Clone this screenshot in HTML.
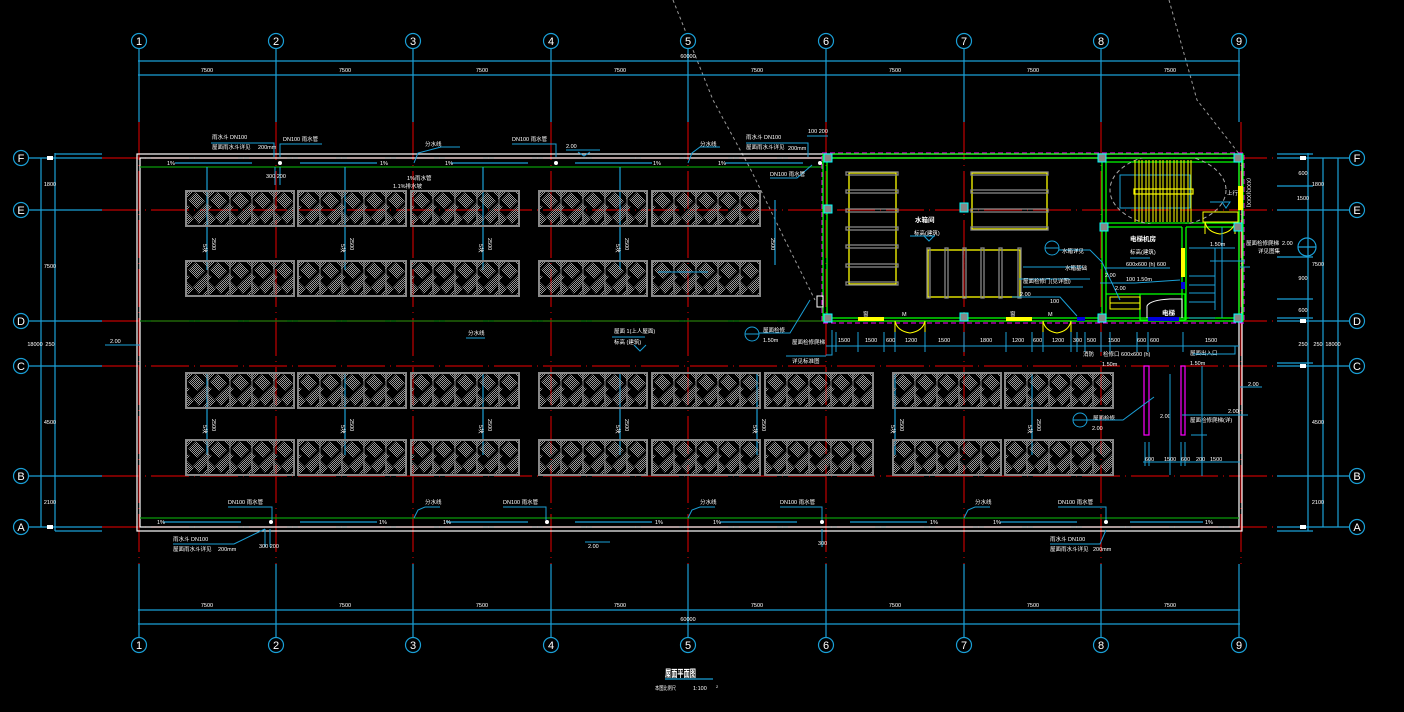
<!DOCTYPE html>
<html><head><meta charset="utf-8">
<style>
html,body{margin:0;padding:0;background:#000;width:1404px;height:712px;overflow:hidden}
svg{display:block}
.t{fill:#fff;font-family:"Liberation Sans","Noto Sans CJK SC",sans-serif;font-size:5.5px}
.tb{fill:#fff;font-family:"Liberation Sans","Noto Sans CJK SC",sans-serif;font-size:6.5px;font-weight:bold}
.bn{fill:#fff;font-family:"Liberation Sans",sans-serif;font-size:11px}
</style></head><body>
<svg width="1404" height="712" viewBox="0 0 1404 712" xmlns="http://www.w3.org/2000/svg">
<defs>
<pattern id="chk" width="2" height="2" patternUnits="userSpaceOnUse">
<rect x="0" y="0" width="1" height="1" fill="#9a9a9a"/><rect x="1" y="1" width="1" height="1" fill="#9a9a9a"/>
</pattern>
<pattern id="blob" width="22" height="37" patternUnits="userSpaceOnUse">
<g fill="url(#chk)">
<polygon points="0,0 10,0 0,10"/>
<polygon points="11,2 20,11 12,19 3,10"/>
<polygon points="22,13 22,25 17,30 11,24"/>
<polygon points="0,20 9,29 3,35 0,32"/>
<polygon points="8,27 15,20 21,26 14,34"/>
<polygon points="15,0 22,0 22,7"/>
<polygon points="20,32 22,30 22,37 17,37"/>
<polygon points="0,13 5,17 0,22"/>
</g>
</pattern>
<symbol id="pv" viewBox="0 0 110 37" width="110" height="37">
<rect x="1" y="1" width="108" height="35" fill="url(#blob)"/>
<rect x="1" y="1" width="108" height="35" fill="none" stroke="#888" stroke-width="2"/>
<g stroke="#888" stroke-width="1"><line x1="23" y1="1" x2="23" y2="36"/><line x1="45" y1="1" x2="45" y2="36"/><line x1="67" y1="1" x2="67" y2="36"/><line x1="89" y1="1" x2="89" y2="36"/></g>
</symbol>
<clipPath id="stairclip"><rect x="1104" y="158" width="160" height="66"/></clipPath>
</defs>

<!-- diagonal dashed arcs -->
<g fill="none" stroke="#999" stroke-width="1" stroke-dasharray="3,3">
<path d="M673,0 L713,100 L751,170 L785,240 L815,300"/>
<path d="M1169,0 L1197,100 L1240,155"/>
</g>

<!-- red grid lines -->
<g stroke="#c00000" stroke-width="1.2" fill="none" stroke-dasharray="38,5,1,5">
<line x1="139" y1="122" x2="139" y2="564"/><line x1="276" y1="122" x2="276" y2="564"/>
<line x1="413" y1="122" x2="413" y2="564"/><line x1="551" y1="122" x2="551" y2="564"/>
<line x1="688" y1="122" x2="688" y2="564"/><line x1="826" y1="122" x2="826" y2="564"/>
<line x1="964" y1="122" x2="964" y2="564"/><line x1="1101" y1="122" x2="1101" y2="564"/>
<line x1="1241" y1="122" x2="1241" y2="564"/>
<line x1="102" y1="158" x2="1277" y2="158"/><line x1="102" y1="210" x2="1277" y2="210"/>
<line x1="102" y1="321" x2="1277" y2="321"/><line x1="102" y1="366" x2="1277" y2="366"/>
<line x1="102" y1="476" x2="1277" y2="476"/><line x1="102" y1="527" x2="1277" y2="527"/>
</g>

<!-- blue grid extensions + bubbles -->
<g stroke="#1a9fd6" stroke-width="1.2" fill="none">
<line x1="139" y1="48" x2="139" y2="122"/><line x1="276" y1="48" x2="276" y2="122"/>
<line x1="413" y1="48" x2="413" y2="122"/><line x1="551" y1="48" x2="551" y2="122"/>
<line x1="688" y1="48" x2="688" y2="122"/><line x1="826" y1="48" x2="826" y2="122"/>
<line x1="964" y1="48" x2="964" y2="122"/><line x1="1101" y1="48" x2="1101" y2="122"/>
<line x1="1239" y1="48" x2="1239" y2="122"/>
<line x1="139" y1="564" x2="139" y2="638"/><line x1="276" y1="564" x2="276" y2="638"/>
<line x1="413" y1="564" x2="413" y2="638"/><line x1="551" y1="564" x2="551" y2="638"/>
<line x1="688" y1="564" x2="688" y2="638"/><line x1="826" y1="564" x2="826" y2="638"/>
<line x1="964" y1="564" x2="964" y2="638"/><line x1="1101" y1="564" x2="1101" y2="638"/>
<line x1="1239" y1="564" x2="1239" y2="638"/>
<line x1="138" y1="61" x2="1240" y2="61"/><line x1="138" y1="75" x2="1240" y2="75"/>
<line x1="138" y1="610" x2="1240" y2="610"/><line x1="138" y1="624" x2="1240" y2="624"/>
<line x1="28" y1="158" x2="102" y2="158"/><line x1="28" y1="210" x2="102" y2="210"/>
<line x1="28" y1="321" x2="102" y2="321"/><line x1="28" y1="366" x2="102" y2="366"/>
<line x1="28" y1="476" x2="102" y2="476"/><line x1="28" y1="527" x2="102" y2="527"/>
<line x1="55" y1="154" x2="102" y2="154"/><line x1="55" y1="531" x2="102" y2="531"/>
<line x1="41" y1="158" x2="41" y2="527"/><line x1="55" y1="153" x2="55" y2="531"/>
<line x1="1277" y1="158" x2="1350" y2="158"/><line x1="1277" y1="210" x2="1350" y2="210"/>
<line x1="1277" y1="321" x2="1350" y2="321"/><line x1="1277" y1="366" x2="1350" y2="366"/>
<line x1="1277" y1="476" x2="1350" y2="476"/><line x1="1277" y1="527" x2="1350" y2="527"/>
<line x1="1277" y1="154" x2="1313" y2="154"/><line x1="1277" y1="531" x2="1313" y2="531"/>
<line x1="1277" y1="186" x2="1313" y2="186"/><line x1="1277" y1="257" x2="1313" y2="257"/>
<line x1="1277" y1="299" x2="1313" y2="299"/><line x1="1277" y1="318" x2="1313" y2="318"/>
<line x1="1277" y1="363" x2="1313" y2="363"/>
<line x1="1308" y1="153" x2="1308" y2="531"/><line x1="1323" y1="158" x2="1323" y2="527"/>
<line x1="1338" y1="158" x2="1338" y2="527"/>
<circle cx="1307" cy="247" r="9"/><line x1="1298" y1="247" x2="1316" y2="247"/>
</g>
<g stroke="#1a9fd6" stroke-width="1.2" fill="#000">
<circle cx="139" cy="41" r="7.5"/><circle cx="276" cy="41" r="7.5"/><circle cx="413" cy="41" r="7.5"/>
<circle cx="551" cy="41" r="7.5"/><circle cx="688" cy="41" r="7.5"/><circle cx="826" cy="41" r="7.5"/>
<circle cx="964" cy="41" r="7.5"/><circle cx="1101" cy="41" r="7.5"/><circle cx="1239" cy="41" r="7.5"/>
<circle cx="139" cy="645" r="7.5"/><circle cx="276" cy="645" r="7.5"/><circle cx="413" cy="645" r="7.5"/>
<circle cx="551" cy="645" r="7.5"/><circle cx="688" cy="645" r="7.5"/><circle cx="826" cy="645" r="7.5"/>
<circle cx="964" cy="645" r="7.5"/><circle cx="1101" cy="645" r="7.5"/><circle cx="1239" cy="645" r="7.5"/>
<circle cx="21" cy="158" r="7.5"/><circle cx="21" cy="210" r="7.5"/><circle cx="21" cy="321" r="7.5"/>
<circle cx="21" cy="366" r="7.5"/><circle cx="21" cy="476" r="7.5"/><circle cx="21" cy="527" r="7.5"/>
<circle cx="1357" cy="158" r="7.5"/><circle cx="1357" cy="210" r="7.5"/><circle cx="1357" cy="321" r="7.5"/>
<circle cx="1357" cy="366" r="7.5"/><circle cx="1357" cy="476" r="7.5"/><circle cx="1357" cy="527" r="7.5"/>
</g>
<g class="bn" text-anchor="middle">
<text x="139" y="45">1</text><text x="276" y="45">2</text><text x="413" y="45">3</text><text x="551" y="45">4</text>
<text x="688" y="45">5</text><text x="826" y="45">6</text><text x="964" y="45">7</text><text x="1101" y="45">8</text><text x="1239" y="45">9</text>
<text x="139" y="649">1</text><text x="276" y="649">2</text><text x="413" y="649">3</text><text x="551" y="649">4</text>
<text x="688" y="649">5</text><text x="826" y="649">6</text><text x="964" y="649">7</text><text x="1101" y="649">8</text><text x="1239" y="649">9</text>
<text x="21" y="162">F</text><text x="21" y="214">E</text><text x="21" y="325">D</text><text x="21" y="370">C</text><text x="21" y="480">B</text><text x="21" y="531">A</text>
<text x="1357" y="162">F</text><text x="1357" y="214">E</text><text x="1357" y="325">D</text><text x="1357" y="370">C</text><text x="1357" y="480">B</text><text x="1357" y="531">A</text>
</g>

<g class="t" text-anchor="middle">
<text x="207" y="72">7500</text><text x="345" y="72">7500</text><text x="482" y="72">7500</text><text x="620" y="72">7500</text>
<text x="757" y="72">7500</text><text x="895" y="72">7500</text><text x="1033" y="72">7500</text><text x="1170" y="72">7500</text>
<text x="688" y="58">60000</text>
<text x="207" y="607">7500</text><text x="345" y="607">7500</text><text x="482" y="607">7500</text><text x="620" y="607">7500</text>
<text x="757" y="607">7500</text><text x="895" y="607">7500</text><text x="1033" y="607">7500</text><text x="1170" y="607">7500</text>
<text x="688" y="621">60000</text>
<text x="50" y="186">1800</text><text x="50" y="268">7500</text><text x="50" y="346">250</text>
<text x="50" y="424">4500</text><text x="50" y="504">2100</text><text x="35" y="346">18000</text>
<text x="1303" y="175">600</text><text x="1303" y="200">1500</text><text x="1303" y="280">900</text>
<text x="1303" y="312">600</text><text x="1303" y="346">250</text><text x="1318" y="346">250</text>
<text x="1318" y="186">1800</text><text x="1318" y="266">7500</text><text x="1318" y="424">4500</text><text x="1318" y="504">2100</text>
<text x="1333" y="346">18000</text>
</g>
<g fill="#fff"><rect x="47" y="156" width="6" height="4"/><rect x="47" y="525" width="6" height="4"/>
<rect x="1300" y="156" width="6" height="4"/><rect x="1300" y="319" width="6" height="4"/><rect x="1300" y="364" width="6" height="4"/><rect x="1300" y="525" width="6" height="4"/></g>

<rect x="137" y="154" width="1105" height="377" fill="none" stroke="#fff" stroke-width="1.2"/>
<rect x="140" y="158" width="1099" height="369" fill="none" stroke="#fff" stroke-width="1.2"/>
<g stroke="#0a9a0a" stroke-width="1.2"><line x1="140" y1="167" x2="823" y2="167"/><line x1="140" y1="518" x2="1239" y2="518"/>
<line x1="826" y1="321" x2="140" y2="321" stroke="#0a7a0a"/></g>

<g stroke="#1a9fd6" stroke-width="1.2">
<line x1="175" y1="163" x2="252" y2="163"/><line x1="300" y1="163" x2="377" y2="163"/>
<line x1="451" y1="163" x2="528" y2="163"/><line x1="575" y1="163" x2="652" y2="163"/>
<line x1="725" y1="163" x2="803" y2="163"/>
<line x1="163" y1="522" x2="241" y2="522"/><line x1="300" y1="522" x2="377" y2="522"/>
<line x1="446" y1="522" x2="528" y2="522"/><line x1="575" y1="522" x2="652" y2="522"/>
<line x1="720" y1="522" x2="797" y2="522"/><line x1="850" y1="522" x2="927" y2="522"/>
<line x1="1000" y1="522" x2="1077" y2="522"/><line x1="1130" y1="522" x2="1203" y2="522"/>
</g>
<g class="t"><text x="167" y="165">1%</text><text x="380" y="165">1%</text><text x="445" y="165">1%</text><text x="653" y="165">1%</text><text x="718" y="165">1%</text>
<text x="157" y="524">1%</text><text x="379" y="524">1%</text><text x="443" y="524">1%</text><text x="655" y="524">1%</text><text x="713" y="524">1%</text>
<text x="930" y="524">1%</text><text x="993" y="524">1%</text><text x="1205" y="524">1%</text></g>
<g fill="#fff"><circle cx="280" cy="163" r="2"/><circle cx="556" cy="163" r="2"/><circle cx="820" cy="163" r="2"/>
<circle cx="271" cy="522" r="2"/><circle cx="547" cy="522" r="2"/><circle cx="822" cy="522" r="2"/><circle cx="1106" cy="522" r="2"/></g>

<g stroke="#1a9fd6" stroke-width="1" fill="none">
<polyline points="211,143 274,143 274,157"/><polyline points="280,157 280,144 322,144"/>
<polyline points="414,163 418,153 441,147 460,147"/><polyline points="512,144 556,144 556,157"/>
<polyline points="566,150 600,150"/><polyline points="688,163 692,153 700,147 720,147"/>
<polyline points="746,143 808,143 808,157"/><polyline points="807,136 828,136"/>
<polyline points="770,178 797,178 812,165"/>
<line x1="275" y1="167" x2="275" y2="185"/><line x1="280" y1="167" x2="280" y2="185"/>
<polyline points="228,507 272,507 272,520"/><polyline points="414,518 418,510 425,507 440,507"/>
<polyline points="503,507 546,507 546,520"/><polyline points="688,518 692,510 700,507 715,507"/>
<polyline points="780,507 822,507 822,520"/><polyline points="964,518 968,510 975,507 990,507"/>
<polyline points="1058,507 1106,507 1106,520"/>
<polyline points="173,544 234,544 265,529"/><line x1="265" y1="529" x2="265" y2="547"/><line x1="270" y1="529" x2="270" y2="547"/>
<polyline points="1050,544 1100,544 1106,530"/><line x1="822" y1="529" x2="822" y2="547"/>
<polyline points="585,542 610,542"/><polyline points="105,345 140,345"/>
<polyline points="466,338 485,338"/><polyline points="612,337 645,337"/>
<polyline points="1240,387 1262,387"/>
</g>
<g class="t">
<text x="212" y="139">雨水斗  DN100</text><text x="212" y="149">屋面雨水斗详见</text><text x="258" y="149">200mm</text>
<text x="283" y="141">DN100  雨水管</text><text x="425" y="146">分水线</text><text x="512" y="141">DN100  雨水管</text>
<text x="566" y="148">2.00</text><text x="700" y="146">分水线</text>
<text x="746" y="139">雨水斗  DN100</text><text x="746" y="149">屋面雨水斗详见</text><text x="788" y="150">200mm</text>
<text x="808" y="133">100 200</text><text x="770" y="176">DN100  雨水管</text><text x="266" y="178">300 200</text>
<text x="407" y="180">1%雨水管</text><text x="393" y="188">1.1%排水坡</text>
<text x="228" y="504">DN100  雨水管</text><text x="425" y="504">分水线</text><text x="503" y="504">DN100  雨水管</text>
<text x="700" y="504">分水线</text><text x="780" y="504">DN100  雨水管</text><text x="975" y="504">分水线</text><text x="1058" y="504">DN100  雨水管</text>
<text x="173" y="541">雨水斗  DN100</text><text x="173" y="551">屋面雨水斗详见</text><text x="218" y="551">200mm</text>
<text x="259" y="548">300 200</text><text x="818" y="545">300</text><text x="588" y="548">2.00</text>
<text x="1050" y="541">雨水斗  DN100</text><text x="1050" y="551">屋面雨水斗详见</text><text x="1093" y="551">200mm</text>
<text x="110" y="343">2.00</text><text x="468" y="335">分水线</text>
<text x="614" y="333">屋面 1(上人屋面)</text><text x="614" y="344">标高  (建筑)</text>
<text x="1246" y="245">屋面检修爬梯</text><text x="1258" y="253">详见图集</text><text x="1282" y="245">2.00</text>
<text x="1248" y="386">2.00</text>
</g>
<g stroke="#1a9fd6" stroke-width="1" fill="none"><polyline points="634,345 640,351 646,345"/><polyline points="578,152 584,156 590,152"/></g>

<g stroke="#1a9fd6" stroke-width="1.2">
<line x1="207" y1="167" x2="207" y2="270"/><line x1="345" y1="167" x2="345" y2="270"/><line x1="483" y1="167" x2="483" y2="270"/>
<line x1="620" y1="167" x2="620" y2="270"/><line x1="775" y1="200" x2="775" y2="265"/>
<line x1="207" y1="374" x2="207" y2="455"/><line x1="345" y1="374" x2="345" y2="455"/><line x1="483" y1="374" x2="483" y2="455"/>
<line x1="620" y1="374" x2="620" y2="455"/><line x1="757" y1="374" x2="757" y2="455"/><line x1="895" y1="374" x2="895" y2="455"/>
<line x1="1032" y1="374" x2="1032" y2="455"/>
</g>
<g class="t">
<text transform="translate(203,244) rotate(90)">5块</text><text transform="translate(212,238) rotate(90)">2500</text>
<text transform="translate(341,244) rotate(90)">5块</text><text transform="translate(350,238) rotate(90)">2500</text>
<text transform="translate(479,244) rotate(90)">5块</text><text transform="translate(488,238) rotate(90)">2500</text>
<text transform="translate(616,244) rotate(90)">5块</text><text transform="translate(625,238) rotate(90)">2500</text>
<text transform="translate(771,238) rotate(90)">2500</text>
<text transform="translate(203,425) rotate(90)">5块</text><text transform="translate(212,419) rotate(90)">2500</text>
<text transform="translate(341,425) rotate(90)">5块</text><text transform="translate(350,419) rotate(90)">2500</text>
<text transform="translate(479,425) rotate(90)">5块</text><text transform="translate(488,419) rotate(90)">2500</text>
<text transform="translate(616,425) rotate(90)">5块</text><text transform="translate(625,419) rotate(90)">2500</text>
<text transform="translate(753,425) rotate(90)">5块</text><text transform="translate(762,419) rotate(90)">2500</text>
<text transform="translate(891,425) rotate(90)">5块</text><text transform="translate(900,419) rotate(90)">2500</text>
<text transform="translate(1028,425) rotate(90)">5块</text><text transform="translate(1037,419) rotate(90)">2500</text>
</g>

<use href="#pv" x="185" y="190"/><use href="#pv" x="297" y="190"/><use href="#pv" x="410" y="190"/><use href="#pv" x="538" y="190"/><use href="#pv" x="651" y="190"/>
<use href="#pv" x="185" y="260"/><use href="#pv" x="297" y="260"/><use href="#pv" x="410" y="260"/><use href="#pv" x="538" y="260"/><use href="#pv" x="651" y="260"/>
<use href="#pv" x="185" y="372"/><use href="#pv" x="297" y="372"/><use href="#pv" x="410" y="372"/><use href="#pv" x="538" y="372"/>
<use href="#pv" x="651" y="372"/><use href="#pv" x="764" y="372"/><use href="#pv" x="892" y="372"/><use href="#pv" x="1004" y="372"/>
<use href="#pv" x="185" y="439"/><use href="#pv" x="297" y="439"/><use href="#pv" x="410" y="439"/><use href="#pv" x="538" y="439"/>
<use href="#pv" x="651" y="439"/><use href="#pv" x="764" y="439"/><use href="#pv" x="892" y="439"/><use href="#pv" x="1004" y="439"/>

<rect x="822" y="153" width="422" height="170" fill="none" stroke="#f0f" stroke-width="1" stroke-dasharray="5,3"/>
<g fill="none" stroke="#0f0" stroke-width="1.3">
<rect x="823" y="154" width="420" height="167"/>
<rect x="827" y="158" width="412" height="160"/>
<line x1="1102" y1="158" x2="1102" y2="318"/><line x1="1106" y1="162" x2="1106" y2="318"/>
<line x1="1106" y1="223" x2="1239" y2="223"/><line x1="1106" y1="227" x2="1182" y2="227"/>
<line x1="1182" y1="227" x2="1182" y2="318"/><line x1="1186" y1="227" x2="1239" y2="227"/><line x1="1186" y1="227" x2="1186" y2="320"/>
<rect x="1140" y="294" width="45" height="26"/>
<polyline points="1106,294 1140,294"/>
<line x1="1106" y1="162" x2="1239" y2="162"/>
</g>
<g fill="#ff0"><rect x="858" y="317" width="26" height="4"/><rect x="1006" y="317" width="26" height="4"/>
<rect x="1238" y="186" width="5" height="24"/><rect x="1181" y="248" width="4" height="29"/></g>
<g fill="none" stroke="#ff0" stroke-width="1">
<path d="M895,321 L895,333 M925,321 L925,333 M895,321 Q897,331 910,333 Q923,331 925,321"/>
<path d="M1043,321 L1043,333 M1071,321 L1071,333 M1043,321 Q1045,331 1057,333 Q1069,331 1071,321"/>
<path d="M1205,222 L1205,234 M1235,222 L1235,234 M1205,222 Q1207,232 1220,234 Q1233,232 1235,222"/>
<rect x="1110" y="297" width="30" height="12"/><line x1="1110" y1="303" x2="1140" y2="303"/>
</g>
<g fill="#0000e0"><rect x="1148" y="317" width="31" height="4"/><rect x="1077" y="317" width="8" height="4"/><rect x="1181" y="282" width="4" height="7"/></g>
<path d="M1147,318 L1147,306 Q1150,300 1170,299 L1182,299 L1182,318" fill="none" stroke="#fff" stroke-width="1"/>

<g fill="none" stroke="#ff0" stroke-width="1.3">
<rect x="849" y="173" width="47" height="111"/>
<rect x="972" y="173" width="75" height="56"/>
<rect x="928" y="250" width="92" height="47"/>
</g>
<g fill="none" stroke="#888" stroke-width="1.3">
<rect x="846" y="172" width="52" height="3"/><rect x="846" y="190" width="52" height="3"/><rect x="846" y="209" width="52" height="3"/>
<rect x="846" y="227" width="52" height="3"/><rect x="846" y="245" width="52" height="3"/><rect x="846" y="264" width="52" height="3"/><rect x="846" y="282" width="52" height="3"/>
<rect x="971" y="172" width="77" height="3"/><rect x="971" y="190" width="77" height="3"/><rect x="971" y="209" width="77" height="3"/><rect x="971" y="227" width="77" height="3"/>
<rect x="927" y="248" width="3" height="50"/><rect x="945" y="248" width="3" height="50"/><rect x="963" y="248" width="3" height="50"/>
<rect x="981" y="248" width="3" height="50"/><rect x="999" y="248" width="3" height="50"/><rect x="1018" y="248" width="3" height="50"/>
</g>
<line x1="964" y1="255" x2="964" y2="295" stroke="#c00000" stroke-width="1"/>

<g clip-path="url(#stairclip)"><ellipse cx="1168" cy="190" rx="58" ry="36" fill="none" stroke="#aaa" stroke-width="1" stroke-dasharray="4,3"/></g>
<rect x="1120" y="175" width="70" height="33" fill="none" stroke="#1a9fd6" stroke-width="1"/>
<g stroke="#ff0" stroke-width="1">
<line x1="1135" y1="160" x2="1135" y2="222"/><line x1="1139" y1="160" x2="1139" y2="222"/><line x1="1142" y1="160" x2="1142" y2="222"/>
<line x1="1146" y1="160" x2="1146" y2="222"/><line x1="1149" y1="160" x2="1149" y2="222"/><line x1="1153" y1="160" x2="1153" y2="222"/>
<line x1="1156" y1="160" x2="1156" y2="222"/><line x1="1160" y1="160" x2="1160" y2="222"/><line x1="1163" y1="160" x2="1163" y2="222"/>
<line x1="1167" y1="160" x2="1167" y2="222"/><line x1="1170" y1="160" x2="1170" y2="222"/><line x1="1174" y1="160" x2="1174" y2="222"/>
<line x1="1177" y1="160" x2="1177" y2="222"/><line x1="1181" y1="160" x2="1181" y2="222"/><line x1="1184" y1="160" x2="1184" y2="222"/>
<line x1="1188" y1="160" x2="1188" y2="222"/><line x1="1191" y1="160" x2="1191" y2="222"/>
</g>
<rect x="1134" y="189" width="59" height="5" fill="none" stroke="#ff0" stroke-width="1.2"/>
<rect x="1203" y="212" width="35" height="10" fill="none" stroke="#ff0" stroke-width="1"/>

<g fill="#888" stroke="#0ff" stroke-width="1">
<rect x="824" y="154" width="8" height="8"/><rect x="824" y="205" width="8" height="8"/><rect x="960" y="203" width="8" height="9"/>
<rect x="824" y="314" width="8" height="8"/><rect x="960" y="313" width="8" height="8"/>
<rect x="1098" y="154" width="8" height="8"/><rect x="1234" y="154" width="8" height="8"/>
<rect x="1100" y="223" width="8" height="8"/><rect x="1234" y="223" width="8" height="8"/>
<rect x="1098" y="314" width="8" height="8"/><rect x="1234" y="314" width="8" height="8"/>
</g>
<rect x="817" y="296" width="6" height="11" fill="none" stroke="#fff" stroke-width="1"/>

<g stroke="#1a9fd6" stroke-width="1" fill="none">
<line x1="826" y1="346" x2="1239" y2="346"/>
<g>
<line x1="836" y1="332" x2="836" y2="352"/><line x1="858" y1="332" x2="858" y2="352"/><line x1="884" y1="332" x2="884" y2="352"/>
<line x1="895" y1="332" x2="895" y2="352"/><line x1="925" y1="332" x2="925" y2="352"/><line x1="964" y1="332" x2="964" y2="352"/>
<line x1="1006" y1="332" x2="1006" y2="352"/><line x1="1032" y1="332" x2="1032" y2="352"/><line x1="1043" y1="332" x2="1043" y2="352"/>
<line x1="1071" y1="332" x2="1071" y2="352"/><line x1="1077" y1="332" x2="1077" y2="352"/><line x1="1085" y1="332" x2="1085" y2="352"/>
<line x1="1101" y1="332" x2="1101" y2="352"/><line x1="1110" y1="332" x2="1110" y2="352"/><line x1="1137" y1="332" x2="1137" y2="352"/>
<line x1="1148" y1="332" x2="1148" y2="352"/><line x1="1183" y1="332" x2="1183" y2="352"/>
</g>
<polyline points="826,355 832,355 832,330"/><polyline points="786,356 826,356"/>
<circle cx="752" cy="334" r="7"/><line x1="745" y1="334" x2="759" y2="334"/>
<polyline points="759,333 790,333 810,300"/>
<circle cx="1052" cy="248" r="7"/><line x1="1045" y1="248" x2="1059" y2="248"/>
<polyline points="1059,250 1090,250 1102,262 1120,300"/>
<line x1="1023" y1="267" x2="1083" y2="267"/><line x1="1023" y1="287" x2="1083" y2="287"/>
<polyline points="1012,297 1060,297 1077,316"/>
<polyline points="1105,268 1170,268"/><polyline points="1100,283 1135,283 1180,280"/>
<polyline points="1130,258 1150,258"/>
<line x1="1222" y1="227" x2="1222" y2="318"/><line x1="1215" y1="248" x2="1215" y2="310"/>
<line x1="1189" y1="248" x2="1235" y2="248"/><line x1="1189" y1="276" x2="1215" y2="276"/>
<line x1="1189" y1="285" x2="1215" y2="285"/><line x1="1189" y1="293" x2="1215" y2="293"/>
<line x1="1189" y1="302" x2="1215" y2="302"/><line x1="1189" y1="318" x2="1215" y2="318"/>
<line x1="1210" y1="261" x2="1245" y2="261"/>
<line x1="910" y1="236" x2="935" y2="236"/><polyline points="924,236 929,241 934,236"/>
<line x1="658" y1="272" x2="708" y2="272"/>
<polyline points="1019,279 1090,279"/><polyline points="1210,202 1230,202 1226,208 1222,202"/>
<line x1="1240" y1="267" x2="1250" y2="267"/>
</g>
<g class="t">
<text x="838" y="342">1500</text><text x="865" y="342">1500</text><text x="886" y="342">600</text><text x="905" y="342">1200</text>
<text x="938" y="342">1500</text><text x="980" y="342">1800</text><text x="1012" y="342">1200</text><text x="1033" y="342">600</text>
<text x="1052" y="342">1200</text><text x="1073" y="342">300</text><text x="1087" y="342">500</text>
<text x="1108" y="342">1500</text><text x="1137" y="342">600</text><text x="1150" y="342">600</text><text x="1205" y="342">1500</text>
<text x="915" y="222" class="tb">水箱间</text><text x="914" y="235">标高(建筑)</text>
<text x="1130" y="241" class="tb">电梯机房</text><text x="1130" y="254">标高(建筑)</text>
<text x="1162" y="315" class="tb">电梯</text>
<text x="1062" y="253">水箱详见</text><text x="1065" y="270">水箱基础</text><text x="1023" y="283">屋面检修门(见详图)</text>
<text x="1020" y="296">2.00</text><text x="1050" y="303">100</text><text x="1126" y="266">600x600 (h) 600</text>
<text x="1126" y="281">100  1.50m</text><text x="1105" y="277">2.00</text><text x="1115" y="290">2.00</text>
<text x="1083" y="356">消防</text><text x="1103" y="356">检修口  600x600 (h)</text><text x="1102" y="366">1.50m</text>
<text x="1190" y="355">屋面出入口</text><text x="1190" y="365">1.50m</text>
<text x="792" y="344">屋面检修爬梯</text><text x="792" y="363">详见标准图</text>
<text x="763" y="332">屋面检修</text><text x="763" y="342">1.50m</text>
<text x="1227" y="195">上行</text><text x="1210" y="246">1.50m</text>
<text x="1093" y="420">屋面检修</text><text x="1092" y="430">2.00</text><text x="1190" y="422">屋面检修爬梯(详)</text>
<text x="1228" y="413">2.00</text><text x="1160" y="418">2.00</text>
<text x="863" y="316">窗</text><text x="1010" y="316">窗</text><text x="902" y="316">M</text><text x="1048" y="316">M</text>
<text transform="translate(1247,178) rotate(90)">(XXX)(XXX)</text>
</g>

<g fill="none" stroke="#f0f" stroke-width="1.2"><rect x="1144" y="366" width="5" height="69"/><rect x="1181" y="366" width="4" height="69"/></g>
<g stroke="#1a9fd6" stroke-width="1" fill="none">
<line x1="1170" y1="374" x2="1170" y2="475"/><line x1="1202" y1="366" x2="1202" y2="476"/>
<line x1="1143" y1="462" x2="1240" y2="462"/><line x1="1145" y1="442" x2="1145" y2="466"/><line x1="1149" y1="442" x2="1149" y2="466"/>
<line x1="1181" y1="442" x2="1181" y2="466"/><line x1="1185" y1="442" x2="1185" y2="466"/>
<line x1="1182" y1="415" x2="1248" y2="415"/><line x1="1191" y1="435" x2="1207" y2="435"/>
<circle cx="1080" cy="420" r="7"/><line x1="1073" y1="420" x2="1087" y2="420"/>
<polyline points="1087,420 1123,420 1154,397"/>
<polyline points="1193,354 1235,354 1235,346"/>
</g>
<g class="t"><text x="1145" y="461">600</text><text x="1164" y="461">1500</text><text x="1181" y="461">600</text><text x="1196" y="461">200</text><text x="1210" y="461">1500</text></g>

<text x="665" y="677" class="tb" style="font-size:10px" textLength="31" lengthAdjust="spacingAndGlyphs">屋面平面图</text>
<line x1="665" y1="679" x2="713" y2="679" stroke="#1a9fd6" stroke-width="1.2"/>
<text x="655" y="690" class="t" textLength="21" lengthAdjust="spacingAndGlyphs">本图比例尺</text>
<text x="693" y="690" class="t">1:100</text><text x="716" y="688" class="t" style="font-size:4px">2</text>
</svg>
</body></html>
